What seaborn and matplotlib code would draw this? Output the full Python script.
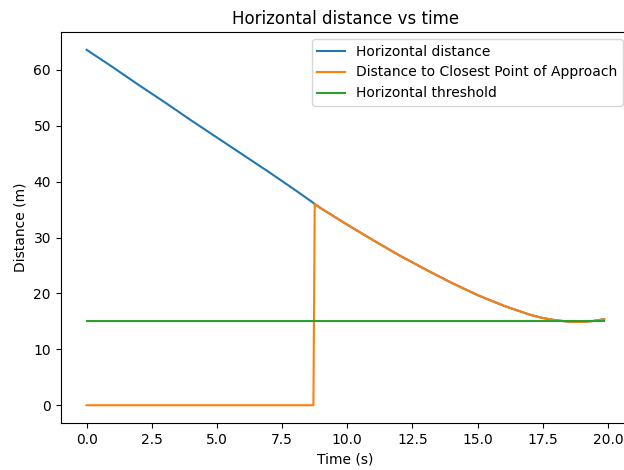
import matplotlib
matplotlib.use("Agg")
import matplotlib.pyplot as plt
import seaborn as sns
import numpy as np

# Data
time_s = [0, 1, 2, 3, 4, 5, 6, 7, 8, 8.7, 8.75, 9, 10, 11, 12, 13, 14, 15,
          16, 16.5, 17, 17.5, 18, 18.5, 19, 19.4, 19.85]
horizontal_distance = [63.6, 60.5, 57.3, 54.2, 51.0, 47.9, 44.8, 41.7, 38.5,
                       36.2, 36.0, 35.2, 32.3, 29.5, 26.8, 24.3, 21.9, 19.7,
                       17.8, 17.0, 16.2, 15.6, 15.2, 14.95, 14.9, 15.05, 15.4]
cpa_distance = [0, 0, 0, 0, 0, 0, 0, 0, 0,
                0, 36.0, 35.2, 32.3, 29.5, 26.8, 24.3, 21.9, 19.7,
                17.8, 17.0, 16.2, 15.6, 15.2, 14.95, 14.9, 15.05, 15.4]
threshold = [15.0] * len(time_s)

fig = plt.figure(figsize=(6.24, 4.70), dpi=100)
ax = fig.add_axes([60.7 / 624, (470 - 423) / 470, (630 - 60.7) / 624, (423 - 32) / 470])

sns.lineplot(x=time_s, y=horizontal_distance, ax=ax, color="tab:blue",
             label="Horizontal distance", sort=False, estimator=None)
sns.lineplot(x=time_s, y=cpa_distance, ax=ax, color="tab:orange",
             label="Distance to Closest Point of Approach", sort=False, estimator=None)
sns.lineplot(x=time_s, y=threshold, ax=ax, color="tab:green",
             label="Horizontal threshold", sort=False, estimator=None)

ax.set_title("Horizontal distance vs time")
ax.set_xlabel("Time (s)")
ax.set_ylabel("Distance (m)")
ax.set_xticks([0, 2.5, 5, 7.5, 10, 12.5, 15, 17.5, 20])
ax.spines["right"].set_visible(False)
ax.legend(loc="upper right")

fig.savefig("out.png", dpi=100)
